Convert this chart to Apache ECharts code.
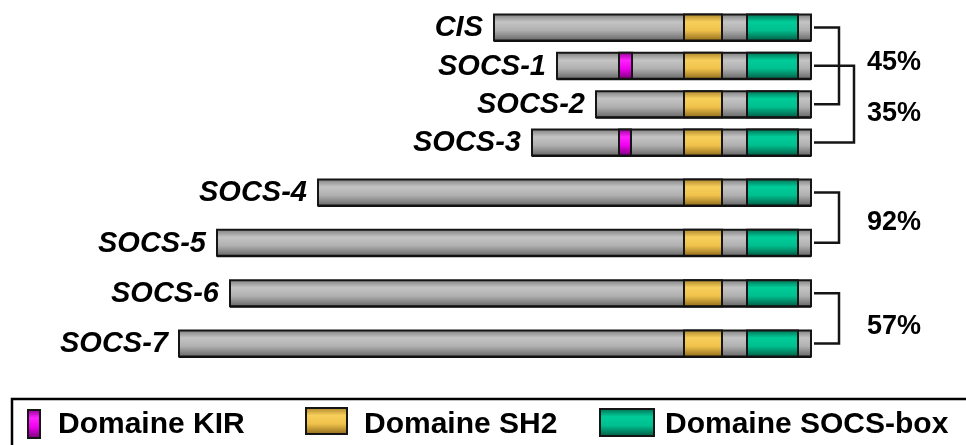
<!DOCTYPE html>
<html><head><meta charset="utf-8">
<script src="https://cdn.jsdelivr.net/npm/echarts@6/dist/echarts.min.js"></script>
<style>html,body{margin:0;padding:0;background:#fff}#c{width:966px;height:445px}</style>
</head><body><div id="c"></div>
<script>
// ---- data (schematic units, measured from the aligned C-terminus) ----
const groupA = ['CIS', 'SOCS-1', 'SOCS-2', 'SOCS-3'];
const groupB = ['SOCS-4', 'SOCS-5', 'SOCS-6', 'SOCS-7'];
const proteins = groupA.concat(groupB);
const lengths  = [317, 254, 215, 279, 493, 594, 581, 632];
const kirStart = [null, 179, null, 180, null, null, null, null];
const kirEnd   = [null, 192, null, 192, null, null, null, null];
const sh2Start = [89, 89, 89, 89, 89, 89, 89, 89];
const sh2End   = [127, 127, 127, 127, 127, 127, 127, 127];
const boxStart = [13, 13, 13, 13, 13, 13, 13, 13];
const boxEnd   = [64, 64, 64, 64, 64, 64, 64, 64];
const pairA    = ['CIS', 'SOCS-1', 'SOCS-4', 'SOCS-6'];
const pairB    = ['SOCS-2', 'SOCS-3', 'SOCS-5', 'SOCS-7'];
const identity = ['45%', '35%', '92%', '57%'];
const legendNames = ['Domaine KIR', 'Domaine SH2', 'Domaine SOCS-box'];

// ---- styling / layout ----
const LG = echarts.graphic.LinearGradient;
const grad = (top, hi, mid, bot) => new LG(0, 0, 0, 1, [
  {offset: 0, color: top}, {offset: 0.3, color: hi}, {offset: 0.6, color: mid}, {offset: 1, color: bot}]);
const grayFill = () => grad('#7a7a7a', '#c4c4c4', '#b0b0b0', '#626262');
const sh2Fill  = () => grad('#a88028', '#f7cf5a', '#f0c24c', '#8a6618');
const boxFill  = () => grad('#00694e', '#00cc99', '#00bf8f', '#00553f');
const kirFill  = () => grad('#8a008a', '#ff22ff', '#f000f0', '#700070');
const bracketReach = [28, 43, 28, 28];
const labelDy = [-3, 9, 5, 8];
const BAR_H = 26;

function renderProtein(params, api) {
  const len = api.value(0), cat = api.value(1), i = api.value(2);
  const base = api.coord([0, cat]);
  const yc = base[1];
  const X = v => api.coord([v, cat])[0];
  const seg = (a, b, fill) => ({
    type: 'rect',
    shape: {x: X(b), y: yc - BAR_H / 2, width: X(a) - X(b), height: BAR_H},
    style: {fill: fill, stroke: '#151515', lineWidth: 2}
  });
  const children = [
    seg(0, len, grayFill()),
    seg(sh2Start[i], sh2End[i], sh2Fill()),
    seg(boxStart[i], boxEnd[i], boxFill())
  ];
  if (kirStart[i] != null) children.push(seg(kirStart[i], kirEnd[i], kirFill()));
  children.push({
    type: 'line',
    shape: {x1: X(len), y1: yc + BAR_H / 2 + 0.5, x2: X(0), y2: yc + BAR_H / 2 + 0.5},
    style: {stroke: '#111', lineWidth: 2}
  });
  children.push({
    type: 'text',
    style: {text: proteins[i], x: X(len) - 11, y: yc + 1, align: 'right', verticalAlign: 'middle',
      font: 'italic bold 29px "Liberation Sans"', fill: '#000'}
  });
  return {type: 'group', children};
}

function renderBracket(params, api) {
  const a = api.value(0), b = api.value(1), k = api.value(2);
  const pa = api.coord([0, a]), pb = api.coord([0, b]);
  const x1 = pa[0] + 3, x2 = pa[0] + bracketReach[k];
  return {type: 'group', children: [
    {type: 'polyline', shape: {points: [[x1, pa[1]], [x2, pa[1]], [x2, pb[1]], [x1, pb[1]]]},
      style: {fill: null, stroke: '#151515', lineWidth: 2.5}},
    {type: 'text', style: {text: identity[k], x: pa[0] + 56, y: (pa[1] + pb[1]) / 2 + labelDy[k],
      align: 'left', verticalAlign: 'middle', font: 'bold 27px "Liberation Sans"', fill: '#000'}}
  ]};
}

const protA = [], protB = [];
proteins.forEach((p, i) => {
  if (i < groupA.length) protA.push([lengths[i], groupA.indexOf(p), i]);
  else protB.push([lengths[i], groupB.indexOf(p), i]);
});
const brA = [], brB = [];
identity.forEach((t, k) => {
  if (groupA.includes(pairA[k])) brA.push([groupA.indexOf(pairA[k]), groupA.indexOf(pairB[k]), k]);
  else brB.push([groupB.indexOf(pairA[k]), groupB.indexOf(pairB[k]), k]);
});

const hiddenX = g => ({gridIndex: g, type: 'value', min: 0, max: 700, inverse: true, show: false});
const hiddenY = (g, d) => ({gridIndex: g, type: 'category', data: d, inverse: true, show: false});

// legend drawn with graphic elements
const swatches = [
  {x: 28, y: 410, w: 12, h: 28, fill: kirFill(), tx: 58},
  {x: 306, y: 408, w: 41, h: 26, fill: sh2Fill(), tx: 364},
  {x: 600, y: 409, w: 54, h: 27, fill: boxFill(), tx: 665}
];
const legendGraphics = [{type: 'rect', shape: {x: 12, y: 399, width: 1000, height: 100},
  style: {fill: null, stroke: '#000', lineWidth: 2.5}}];
swatches.forEach((s, i) => {
  legendGraphics.push({type: 'rect', shape: {x: s.x, y: s.y, width: s.w, height: s.h},
    style: {fill: s.fill, stroke: '#151515', lineWidth: 2}});
  legendGraphics.push({type: 'text', x: s.tx, y: 425,
    style: {text: legendNames[i], align: 'left', verticalAlign: 'middle',
      font: 'bold 30px "Liberation Sans"', fill: '#000'}});
});

const chart = echarts.init(document.getElementById('c'), null, {renderer: 'canvas'});
chart.setOption({
  animation: false,
  backgroundColor: '#fff',
  grid: [
    {left: 111, right: 155, top: 8.33, height: 153.33},
    {left: 111, right: 155, top: 167.33, height: 201.33}
  ],
  xAxis: [hiddenX(0), hiddenX(1)],
  yAxis: [hiddenY(0, groupA), hiddenY(1, groupB)],
  series: [
    {type: 'custom', xAxisIndex: 0, yAxisIndex: 0, renderItem: renderProtein, data: protA, encode: {x: 0, y: 1}},
    {type: 'custom', xAxisIndex: 1, yAxisIndex: 1, renderItem: renderProtein, data: protB, encode: {x: 0, y: 1}},
    {type: 'custom', xAxisIndex: 0, yAxisIndex: 0, renderItem: renderBracket, data: brA, encode: {x: 2, y: 0}},
    {type: 'custom', xAxisIndex: 1, yAxisIndex: 1, renderItem: renderBracket, data: brB, encode: {x: 2, y: 0}}
  ],
  graphic: legendGraphics
});
</script></body></html>
